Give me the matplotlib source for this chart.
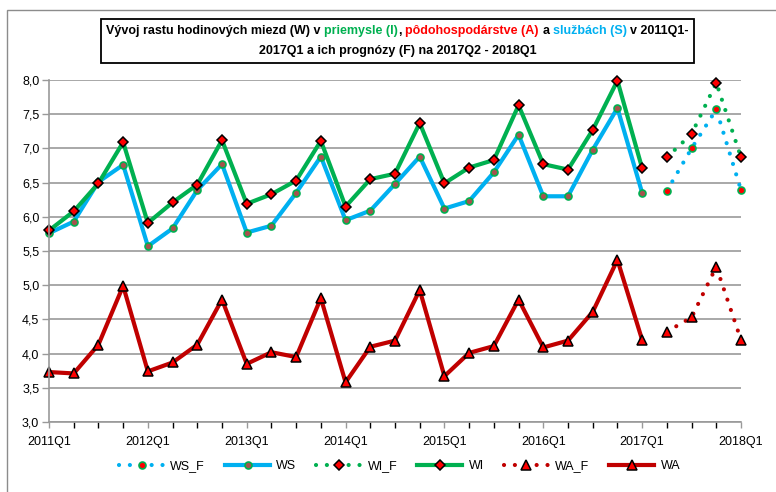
import matplotlib
matplotlib.use("Agg")
import matplotlib.pyplot as plt
from matplotlib.patches import Rectangle
from matplotlib.ticker import FuncFormatter, MultipleLocator
from matplotlib import font_manager

# quarterly data 2011Q1 - 2017Q1
ws = [5.76, 5.93, 6.51, 6.76, 5.57, 5.83, 6.39, 6.77, 5.77, 5.87, 6.35, 6.88, 5.95,
      6.09, 6.48, 6.88, 6.12, 6.23, 6.65, 7.20, 6.30, 6.30, 6.98, 7.59, 6.35]
wi = [5.80, 6.08, 6.49, 7.09, 5.91, 6.21, 6.47, 7.12, 6.19, 6.33, 6.53, 7.11, 6.15,
      6.55, 6.63, 7.37, 6.49, 6.72, 6.83, 7.63, 6.77, 6.69, 7.27, 7.99, 6.71]
wa = [3.73, 3.71, 4.13, 4.99, 3.74, 3.87, 4.13, 4.79, 3.85, 4.02, 3.95, 4.81, 3.58,
      4.10, 4.19, 4.93, 3.67, 4.01, 4.11, 4.79, 4.09, 4.19, 4.61, 5.37, 4.20]
# forecasts 2017Q2 - 2018Q1
ws_f = [6.38, 7.00, 7.57, 6.39]
wi_f = [6.87, 7.21, 7.96, 6.87]
wa_f = [4.32, 4.53, 5.27, 4.20]

year_labels = ["2011Q1", "2012Q1", "2013Q1", "2014Q1", "2015Q1", "2016Q1", "2017Q1", "2018Q1"]

x_hist = list(range(len(ws)))
x_fc = list(range(len(ws), len(ws) + len(ws_f)))

BLUE = "#00B0F0"
GREEN = "#00B050"
DRED = "#C00000"
RED = "#FF0000"
BROWN = "#A5534D"
GRAY = "#999999"

try:
    font_manager.findfont("Liberation Sans", fallback_to_default=False)
    fam = ["Liberation Sans", "DejaVu Sans"]
except Exception:
    fam = ["DejaVu Sans"]
plt.rcParams["font.family"] = fam

fig = plt.figure(figsize=(7.76, 4.92), dpi=100)
ax = fig.add_axes([49 / 776, 1 - 422 / 492, 692 / 776, 342 / 492])

dot = (0, (0.01, 2.6))
lw = 3

ax.plot(x_fc, ws_f, color=BLUE, lw=lw, ls=dot, dash_capstyle="round",
        marker="o", ms=5, mfc=RED, mec=GREEN, mew=1.2, clip_on=False, label="WS_F")
ax.plot(x_hist, ws, color=BLUE, lw=lw, marker="o", ms=5, mfc=BROWN, mec=GREEN,
        mew=1.2, clip_on=False, label="WS")
ax.plot(x_fc, wi_f, color=GREEN, lw=lw, ls=dot, dash_capstyle="round",
        marker="D", ms=5, mfc=RED, mec="black", mew=1.1, clip_on=False, label="WI_F")
ax.plot(x_hist, wi, color=GREEN, lw=lw, marker="D", ms=5, mfc=RED, mec="black",
        mew=1.1, clip_on=False, label="WI")
ax.plot(x_fc, wa_f, color=DRED, lw=lw, ls=dot, dash_capstyle="round",
        marker="^", ms=6.5, mfc=RED, mec="black", mew=1.1, clip_on=False, label="WA_F")
ax.plot(x_hist, wa, color=DRED, lw=lw, marker="^", ms=6.5, mfc=RED, mec="black",
        mew=1.1, clip_on=False, label="WA")

ax.set_xlim(0, 28)
ax.set_ylim(3, 8)
ax.yaxis.set_major_locator(MultipleLocator(0.5))
ax.yaxis.set_major_formatter(FuncFormatter(lambda v, p: f"{v:.1f}".replace(".", ",")))
ax.set_xticks(range(0, 29, 4))
ax.set_xticklabels(year_labels)
ax.set_xticks(range(0, 29), minor=True)
ax.tick_params(axis="both", colors=GRAY, labelcolor="black", labelsize=9)
ax.tick_params(axis="y", length=5, width=1, pad=2)
ax.tick_params(axis="x", which="both", length=4, width=1, pad=6)
ax.grid(axis="y", color=GRAY, lw=1.2)
ax.set_axisbelow(True)
for s in ["top", "right"]:
    ax.spines[s].set_visible(False)
for s in ["left", "bottom"]:
    ax.spines[s].set_color(GRAY)
    ax.spines[s].set_linewidth(1.2)

fig.legend(*ax.get_legend_handles_labels(), loc="center", bbox_to_anchor=(0.515, 0.053),
           ncol=6, frameon=False, fontsize=9, handlelength=3.6, handletextpad=0.5,
           columnspacing=1.6)

# title with coloured words
tprops = dict(fontsize=9, fontweight="bold")
renderer = fig.canvas.get_renderer()


def tw(s):
    t = fig.text(0, 0, s, **tprops)
    w = t.get_window_extent(renderer).width
    t.remove()
    return w


space = tw("a a") - tw("aa")
line1 = [("Vývoj rastu hodinových miezd (W) v", "black", 0), ("priemysle (I)", GREEN, 1),
         (",", "black", 0), ("pôdohospodárstve (A)", RED, 1), ("a", "black", 1),
         ("službách (S)", BLUE, 1), ("v 2011Q1-", "black", 1)]
total = sum(tw(s) + g * space for s, c, g in line1)
cx = 397.5
xpos = cx - total / 2
for s, c, g in line1:
    xpos += g * space
    fig.text(xpos / 776, 1 - 31 / 492, s, color=c, ha="left", va="center", **tprops)
    xpos += tw(s)
fig.text(cx / 776, 1 - 51 / 492, "2017Q1 a ich prognózy (F) na 2017Q2 - 2018Q1",
         ha="center", va="center", **tprops)
fig.add_artist(Rectangle((101 / 776, 1 - 63 / 492), 593 / 776, 44 / 492,
                         transform=fig.transFigure, fill=False, ec="black", lw=1.3))

# outer chart border
fig.add_artist(Rectangle((7 / 776, -0.1), 1.2, 1 - 10 / 492 + 0.1,
                         transform=fig.transFigure, fill=False, ec="#8C8C8C", lw=1))

fig.savefig("out.png", dpi=100)
